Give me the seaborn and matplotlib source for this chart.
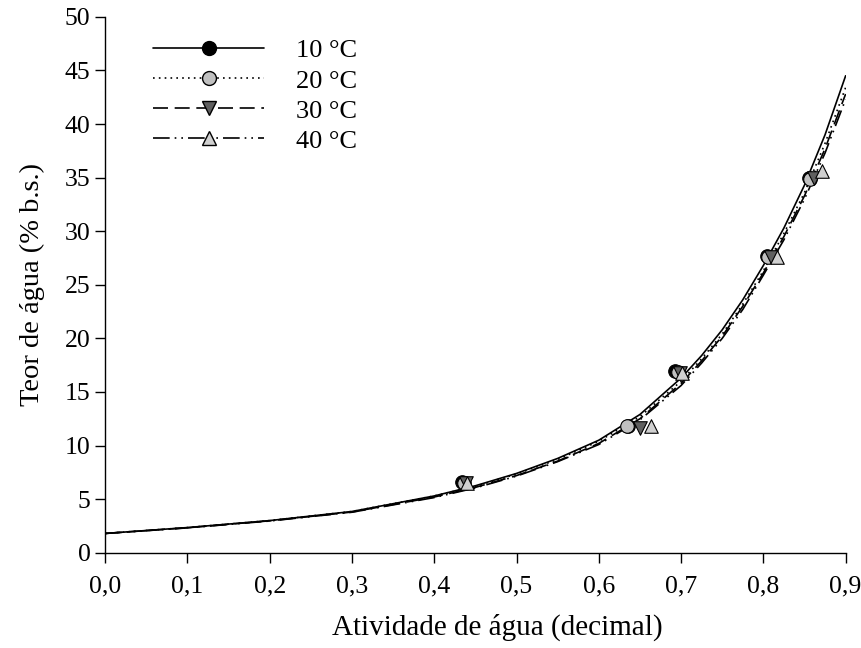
import matplotlib
matplotlib.use("Agg")
import matplotlib.pyplot as plt
import numpy as np
import pandas as pd
import seaborn as sns
from matplotlib.lines import Line2D

# Observed points (water activity, moisture content % d.b.)
aw_10 = [0.434, 0.636, 0.693, 0.804, 0.855]
mc_10 = [6.6, 11.8, 17.0, 27.7, 35.0]
aw_20 = [0.436, 0.634, 0.696, 0.806, 0.857]
mc_20 = [6.5, 11.8, 16.9, 27.6, 34.9]
aw_30 = [0.438, 0.650, 0.699, 0.809, 0.861]
mc_30 = [6.5, 11.6, 16.8, 27.6, 35.0]
aw_40 = [0.440, 0.664, 0.701, 0.816, 0.871]
mc_40 = [6.5, 11.8, 16.8, 27.6, 35.6]

# Fitted curves
aw_fit = [0.0, 0.1, 0.2, 0.3, 0.4, 0.45, 0.5, 0.55, 0.6, 0.65, 0.7, 0.725,
          0.75, 0.775, 0.8, 0.825, 0.85, 0.875, 0.9]
fit_10 = [1.8, 2.35, 3.0, 3.85, 5.3, 6.25, 7.4, 8.8, 10.5, 12.9, 16.3, 18.4,
          20.8, 23.6, 26.8, 30.3, 34.3, 39.0, 44.5]
fit_20 = [1.8, 2.35, 3.0, 3.85, 5.3, 6.2, 7.35, 8.7, 10.4, 12.7, 16.0, 18.1,
          20.4, 23.2, 26.3, 29.8, 33.6, 38.2, 43.4]
fit_30 = [1.8, 2.33, 2.98, 3.8, 5.2, 6.1, 7.2, 8.55, 10.2, 12.5, 15.8, 17.9,
          20.2, 23.0, 26.1, 29.5, 33.3, 37.7, 42.8]
fit_40 = [1.8, 2.32, 2.96, 3.78, 5.15, 6.05, 7.15, 8.5, 10.1, 12.4, 15.6, 17.7,
          20.0, 22.7, 25.9, 29.2, 33.0, 37.3, 42.3]

labels = ["10 °C", "20 °C", "30 °C", "40 °C"]
obs = [(aw_10, mc_10), (aw_20, mc_20), (aw_30, mc_30), (aw_40, mc_40)]
fits = [fit_10, fit_20, fit_30, fit_40]

sns.set_style("ticks")
plt.rcParams["font.family"] = ["Liberation Serif", "DejaVu Serif"]
plt.rcParams["text.color"] = "black"
plt.rcParams["axes.labelcolor"] = "black"

fill = ["black", "#c0c0c0", "#606060", "#d0d0d0"]
marks = ["o", "o", "v", "^"]
dash = [None, (1, 2.5), (9, 4), (10, 3, 1, 3, 1, 3)]

fig, ax = plt.subplots(figsize=(8.62, 6.48), dpi=100)
fig.subplots_adjust(left=0.122, right=0.981, bottom=0.147, top=0.974)

handles = []
for i, lab in enumerate(labels):
    df = pd.DataFrame({"aw": aw_fit, "mc": fits[i]})
    sns.lineplot(data=df, x="aw", y="mc", ax=ax, color="black", linewidth=1.2)
    line = ax.lines[-1]
    kw = {}
    if dash[i] is not None:
        line.set_dashes(dash[i])
        kw["dashes"] = dash[i]
    handles.append(Line2D([], [], color="black", linewidth=1.2, marker=marks[i],
                          markersize=10, markerfacecolor=fill[i],
                          markeredgecolor="black", label=lab, **kw))

for i, lab in enumerate(labels):
    d = pd.DataFrame({"aw": obs[i][0], "mc": obs[i][1]})
    sns.scatterplot(data=d, x="aw", y="mc", ax=ax, marker=marks[i], s=95,
                    color=fill[i], edgecolor="black", linewidth=0.8, zorder=3)

ax.set_xlim(0, 0.9)
ax.set_ylim(0, 50)
ticks_x = np.arange(0, 0.91, 0.1)
ax.set_xticks(ticks_x)
ax.set_xticklabels([f"{v:.1f}".replace(".", ",") for v in ticks_x])
ax.set_yticks(np.arange(0, 51, 5))
ax.tick_params(labelsize=18.5, length=7, width=1, color="black",
               labelcolor="black")
ax.tick_params(axis="x", pad=9)
ax.margins(0)
sns.despine(ax=ax)
for s in ["left", "bottom"]:
    ax.spines[s].set_color("black")
    ax.spines[s].set_linewidth(1)

ax.set_xlabel("Atividade de água (decimal)", fontsize=21)
ax.xaxis.set_label_coords(0.53, -0.113)
ax.set_ylabel("Teor de água (% b.s.)", fontsize=20.5, labelpad=14)

ax.legend(handles=handles, loc="upper left", bbox_to_anchor=(0.033, 1.003),
          frameon=False, fontsize=19, handlelength=4.2, handletextpad=1.2,
          labelspacing=0.25)

fig.savefig("out.png", dpi=100)
